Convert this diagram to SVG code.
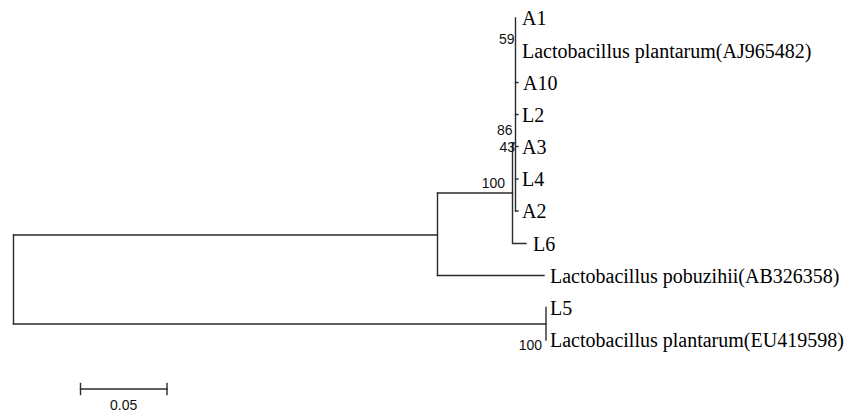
<svg xmlns="http://www.w3.org/2000/svg" width="846" height="415" viewBox="0 0 846 415">
  <style>
    .br { stroke: #2b2b2b; stroke-width: 1.4; fill: none; stroke-linecap: square; }
    .taxon { font-family: "Liberation Serif", "Times New Roman", serif; font-size: 20px; fill: #000; }
    .boot { font-family: "Liberation Sans", Arial, sans-serif; font-size: 14px; fill: #111; text-anchor: end; }
    .scale { font-family: "Liberation Sans", Arial, sans-serif; font-size: 14px; fill: #111; text-anchor: middle; }
  </style>
  <rect width="846" height="415" fill="#fff"/>

  <!-- tree branches -->
  <g id="branches">
    <!-- root -->
    <path class="br" d="M13.5 235 V324"/>
    <path class="br" d="M13.5 235 H437.5"/>
    <path class="br" d="M13.5 324 H546"/>
    <!-- pobuzihii + plantarum group -->
    <path class="br" d="M437.5 193 V275.5"/>
    <path class="br" d="M437.5 275.5 H544"/>
    <path class="br" d="M437.5 193 H512.5"/>
    <!-- bootstrap 100 node -->
    <path class="br" d="M512.5 143 V243.5 H526"/>
    <path class="br" d="M512.5 143 H515.5"/>
    <!-- shallow plantarum cluster -->
    <path class="br" d="M515.5 18 V211"/>
    <path class="br" d="M515.5 82.5 H518"/>
    <path class="br" d="M515.5 114.5 H518"/>
    <path class="br" d="M515.5 146.5 H518"/>
    <path class="br" d="M515.5 179 H518"/>
    <path class="br" d="M515.5 211 H518"/>
    <!-- L5 / EU419598 -->
    <path class="br" d="M546 307.5 V340"/>
  </g>

  <!-- leaf labels -->
  <g id="leaf-A1"><text class="taxon" x="522" y="25">A1</text></g>
  <g id="leaf-LpAJ965482"><text class="taxon" x="522" y="57.5">Lactobacillus plantarum(AJ965482)</text></g>
  <g id="leaf-A10"><text class="taxon" x="523" y="89.5">A10</text></g>
  <g id="leaf-L2"><text class="taxon" x="522" y="121.5">L2</text></g>
  <g id="leaf-A3"><text class="taxon" x="522" y="153.5">A3</text></g>
  <g id="leaf-L4"><text class="taxon" x="522" y="186">L4</text></g>
  <g id="leaf-A2"><text class="taxon" x="522" y="218">A2</text></g>
  <g id="leaf-L6"><text class="taxon" x="533" y="250.5">L6</text></g>
  <g id="leaf-Lpob"><text class="taxon" x="550" y="282.5">Lactobacillus pobuzihii(AB326358)</text></g>
  <g id="leaf-L5"><text class="taxon" x="550" y="314.5">L5</text></g>
  <g id="leaf-LpEU419598"><text class="taxon" x="550" y="347">Lactobacillus plantarum(EU419598)</text></g>

  <!-- bootstrap values -->
  <g id="bootstrap">
    <text class="boot" x="514.5" y="43.5">59</text>
    <text class="boot" x="512.5" y="135">86</text>
    <text class="boot" x="515" y="151.5">43</text>
    <text class="boot" x="505" y="187.5">100</text>
    <text class="boot" x="542" y="349.5">100</text>
  </g>

  <!-- scale bar -->
  <g id="scale-bar">
    <path class="br" d="M80.5 389 H167"/>
    <path class="br" d="M80.5 383.5 V394.5"/>
    <path class="br" d="M167 383.5 V394.5"/>
    <text class="scale" x="123.7" y="409.5">0.05</text>
  </g>
</svg>
